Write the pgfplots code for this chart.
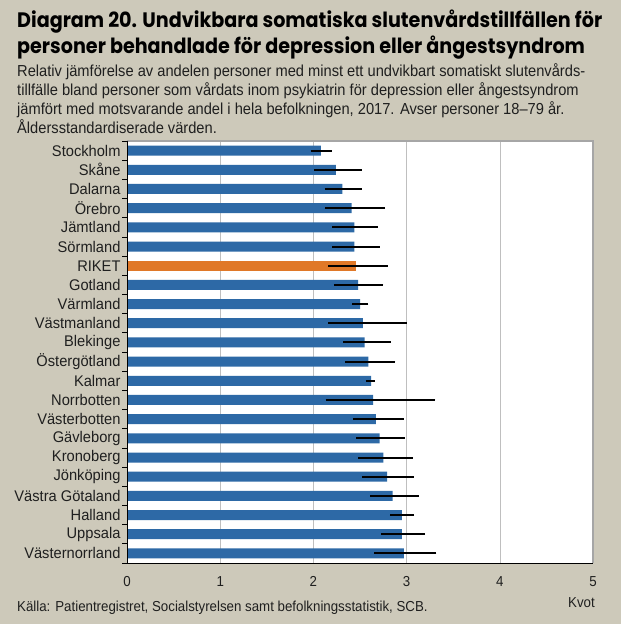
\documentclass[border=0pt]{standalone}
\usepackage{pgfplots}
\pgfplotsset{compat=1.18}
\usepackage{pgfplotstable}
\usepackage{fontspec}
\setmainfont[FakeStretch=0.92]{Liberation Sans}
\newfontfamily\titlefont[FakeStretch=0.915]{Poppins}
\newfontfamily\labelfont[FakeStretch=0.95]{Liberation Sans}
\definecolor{bgc}{RGB}{205,201,186}
\definecolor{barblue}{RGB}{45,105,166}
\definecolor{barorange}{RGB}{224,120,40}
\pgfplotstableread{
y x em ep
0 2.08 0.11 0.12
1 2.24 0.23 0.28
2 2.31 0.19 0.21
3 2.41 0.29 0.36
4 2.44 0.24 0.25
5 2.44 0.24 0.27
7 2.48 0.26 0.27
8 2.50 0.09 0.09
9 2.53 0.37 0.47
10 2.55 0.23 0.28
11 2.59 0.25 0.29
12 2.62 0.06 0.04
13 2.64 0.51 0.67
14 2.67 0.24 0.30
15 2.71 0.25 0.27
16 2.75 0.27 0.32
17 2.79 0.27 0.29
18 2.85 0.24 0.28
19 2.95 0.13 0.13
20 2.95 0.22 0.25
21 2.97 0.32 0.35
}\bluedata
\pgfplotstableread{
y x em ep
6 2.46 0.30 0.34
}\riketdata
\begin{document}
\begin{tikzpicture}
\fill[bgc] (0,0) rectangle (621bp,-624bp);
\node[anchor=base west, inner sep=0, font=\titlefont\bfseries\fontsize{21}{24}\selectfont] at (17bp,-27bp) {Diagram 20. Undvikbara somatiska slutenvårdstillfällen för};
\node[anchor=base west, inner sep=0, font=\titlefont\bfseries\fontsize{21}{24}\selectfont] at (17bp,-53bp) {personer behandlade för depression eller ångestsyndrom};
\foreach \t [count=\i from 0] in {Relativ jämförelse av andelen personer med minst ett undvikbart somatiskt slutenvårds-,tillfälle bland personer som vårdats inom psykiatrin för depression eller ångestsyndrom,{jämfört med motsvarande andel i hela befolkningen, 2017. Avser personer 18–79 år.},Åldersstandardiserade värden.}
  \node[anchor=base west, inner sep=0, font=\fontsize{16}{18}\selectfont, text=black!88] at (17bp,{-76bp-19bp*\i}) {\t};
\fill[white] (127bp,-141bp) rectangle (593bp,-563bp);
\begin{axis}[at={(127bp,-141bp)}, anchor=north west, scale only axis,
  width=466bp, height=422bp,
  xmin=0, xmax=5, ymin=-0.5, ymax=21.5, y dir=reverse,
  xbar, bar width=10bp, bar shift=0pt,
  axis line style={draw=none},
  xtick={0,1,2,3,4,5}, xtick pos=bottom, ytick pos=left,
  ytick={0,...,21},
  yticklabels={Stockholm,Skåne,Dalarna,Örebro,Jämtland,Sörmland,RIKET,Gotland,Värmland,Västmanland,Blekinge,Östergötland,Kalmar,Norrbotten,Västerbotten,Gävleborg,Kronoberg,Jönköping,Västra Götaland,Halland,Uppsala,Västernorrland},
  major tick length=0pt,
  minor ytick={-0.5,0.5,...,21.5},
  minor tick length=5bp, tick align=outside,
  minor tick style={black, line width=0.8bp},
  xmajorgrids, major grid style={black!25, line width=0.6bp},
  /pgf/number format/assume math mode=true,
  xticklabel style={font=\fontsize{14.5}{16}\selectfont, text=black!88, yshift=-10bp},
  yticklabel style={font=\labelfont\fontsize{15.5}{18}\selectfont, text=black!88, xshift=-3bp},
  error bars/error bar style={line width=2bp, black},
]
\addplot[fill=barblue, draw=none, error bars/.cd, x dir=both, x explicit, error mark=none] table[x=x, y=y, x error plus=ep, x error minus=em] {\bluedata};
\addplot[fill=barorange, draw=none, error bars/.cd, x dir=both, x explicit, error mark=none] table[x=x, y=y, x error plus=ep, x error minus=em] {\riketdata};
\end{axis}
\draw[black!35, line width=1.2bp] (127bp,-141bp) -- (593bp,-141bp) -- (593bp,-563bp);
\draw[black, line width=0.8bp] (127bp,-141bp) -- (127bp,-563bp) -- (593bp,-563bp);
\node[anchor=base east, inner sep=0, font=\fontsize{14.5}{16}\selectfont, text=black!88] at (595bp,-607bp) {Kvot};
\node[anchor=base west, inner sep=0, font=\fontsize{14.5}{16}\selectfont, text=black!88] at (17bp,-611bp) {Källa: Patientregistret, Socialstyrelsen samt befolkningsstatistik, SCB.};
\end{tikzpicture}
\end{document}
